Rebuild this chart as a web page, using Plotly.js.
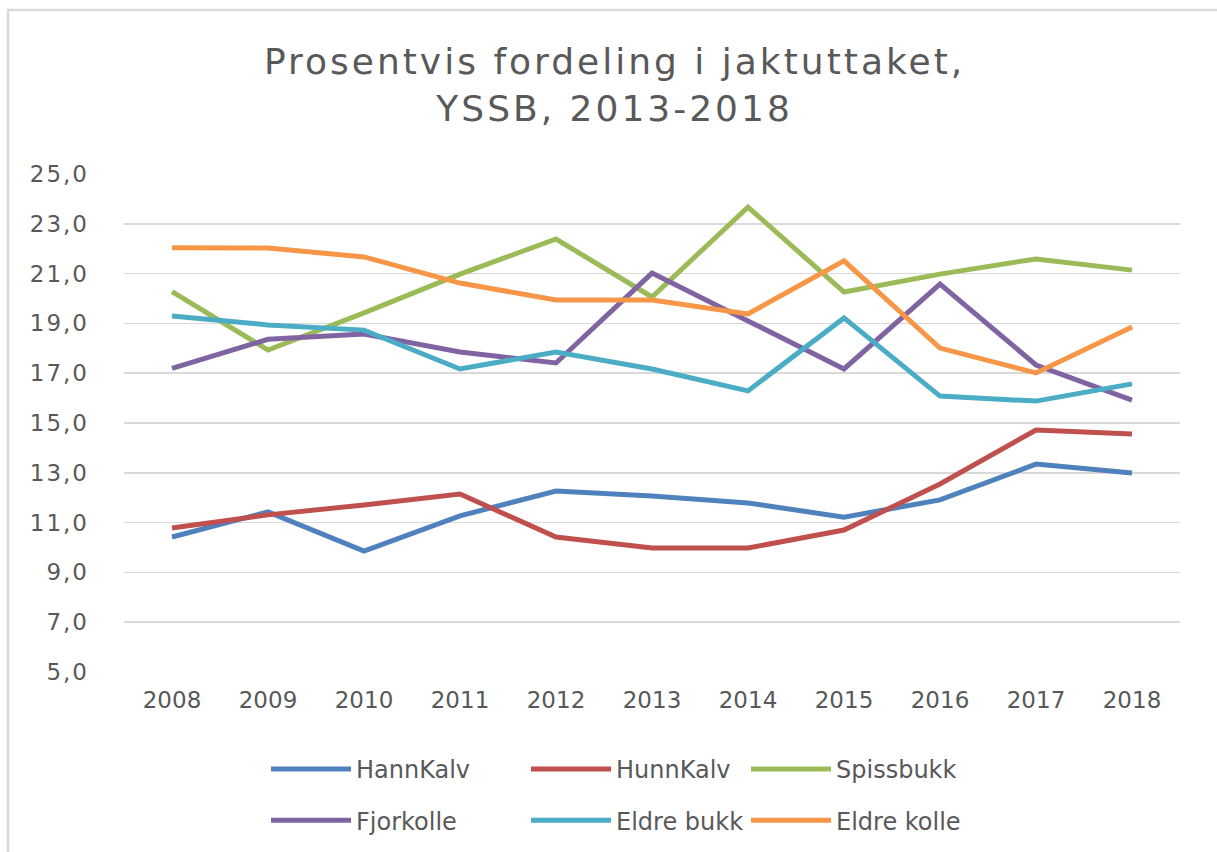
<!DOCTYPE html>
<html>
<head>
<meta charset="utf-8">
<script src="https://cdn.plot.ly/plotly-3.0.1.min.js"></script>
<style>
html,body{margin:0;padding:0;background:#fff;}
#chart .gtitle{letter-spacing:3px;}
#chart .ytick text{letter-spacing:2px;}
</style>
</head>
<body>
<div id="chart" style="width:1217px;height:852px;"></div>
<script>
const years = ["2008","2009","2010","2011","2012","2013","2014","2015","2016","2017","2018"];
const hannKalv   = [10.42, 11.43, 9.86, 11.27, 12.27, 12.07, 11.79, 11.22, 11.91, 13.35, 12.99];
const hunnKalv   = [10.78, 11.31, 11.71, 12.15, 10.42, 9.98, 9.98, 10.70, 12.55, 14.72, 14.56];
const spissbukk  = [20.28, 17.93, 19.42, 20.98, 22.39, 20.06, 23.67, 20.26, 20.98, 21.59, 21.14];
const fjorkolle  = [17.19, 18.36, 18.57, 17.85, 17.41, 21.02, 19.10, 17.17, 20.58, 17.33, 15.92];
const eldreBukk  = [19.30, 18.94, 18.73, 17.17, 17.85, 17.17, 16.29, 19.22, 16.08, 15.88, 16.57];
const eldreKolle = [22.04, 22.03, 21.67, 20.62, 19.94, 19.94, 19.38, 21.51, 18.01, 17.01, 18.86];
const yTicks = [5, 7, 9, 11, 13, 15, 17, 19, 21, 23, 25];

const series = [
  {name: "HannKalv",   y: hannKalv,   color: "#4F81BD", legend: "legend",  group: "a"},
  {name: "HunnKalv",   y: hunnKalv,   color: "#C0504D", legend: "legend2", group: "a"},
  {name: "Spissbukk",  y: spissbukk,  color: "#9BBB59", legend: "legend3", group: "a"},
  {name: "Fjorkolle",  y: fjorkolle,  color: "#8064A2", legend: "legend",  group: "b"},
  {name: "Eldre bukk", y: eldreBukk,  color: "#4BACC6", legend: "legend2", group: "b"},
  {name: "Eldre kolle",y: eldreKolle, color: "#F79646", legend: "legend3", group: "b"}
];

const traces = series.map(s => ({
  type: "scatter", mode: "lines", name: s.name, x: years, y: s.y,
  line: {color: s.color, width: 5, shape: "linear"},
  legend: s.legend, legendgroup: s.group,
  hoverinfo: "skip"
}));

const legendFont = {family: "DejaVu Sans, Verdana, sans-serif", size: 24, color: "#595959"};
function mkLegend(xpx) {
  return {
    xref: "container", yref: "container",
    x: xpx / 1217, y: 1 - 747 / 852, xanchor: "left", yanchor: "top",
    orientation: "v", font: legendFont, itemwidth: 80,
    tracegroupgap: 17, bgcolor: "rgba(0,0,0,0)", borderwidth: 0
  };
}

const plotL = 124, plotR = 1180, plotT = 174, plotB = 672;
const pw = plotR - plotL, ph = plotB - plotT;
const tickFont = {family: "DejaVu Sans, Verdana, sans-serif", size: 23, color: "#595959"};

const layout = {
  width: 1217, height: 852,
  margin: {l: plotL, r: 1217 - plotR, t: plotT, b: 852 - plotB, pad: 0, autoexpand: false},
  paper_bgcolor: "#ffffff", plot_bgcolor: "#ffffff",
  separators: ", ",
  title: {
    text: "Prosentvis fordeling i jaktuttaket,<br>YSSB, 2013-2018",
    font: {family: "DejaVu Sans, Verdana, sans-serif", size: 36, color: "#595959"},
    x: 0.505, xref: "container", xanchor: "center",
    y: 1 - 74 / 852, yref: "container", yanchor: "top"
  },
  xaxis: {
    type: "category", range: [-0.5, 10.5],
    showgrid: false, zeroline: false, showline: false, ticks: "",
    ticklabelstandoff: 12, automargin: false,
    tickfont: tickFont, fixedrange: true
  },
  yaxis: {
    range: [5, 25], tickvals: yTicks, tickformat: ".1f",
    showgrid: true, gridcolor: "#D9D9D9", gridwidth: 1.5,
    zeroline: false, showline: false, ticks: "",
    ticklabelstandoff: 34, automargin: false,
    tickfont: tickFont, fixedrange: true
  },
  legend: mkLegend(266),
  legend2: mkLegend(526),
  legend3: mkLegend(746),
  shapes: [{
    type: "rect", xref: "paper", yref: "paper", layer: "below",
    x0: (8 - plotL) / pw, x1: (1240 - plotL) / pw,
    y0: (plotB - 10) / ph, y1: (plotB - 880) / ph,
    line: {color: "#D9D9D9", width: 2.5}, fillcolor: "rgba(0,0,0,0)"
  }],
  showlegend: true
};

Plotly.newPlot("chart", traces, layout, {displayModeBar: false, staticPlot: true});
</script>
</body>
</html>
